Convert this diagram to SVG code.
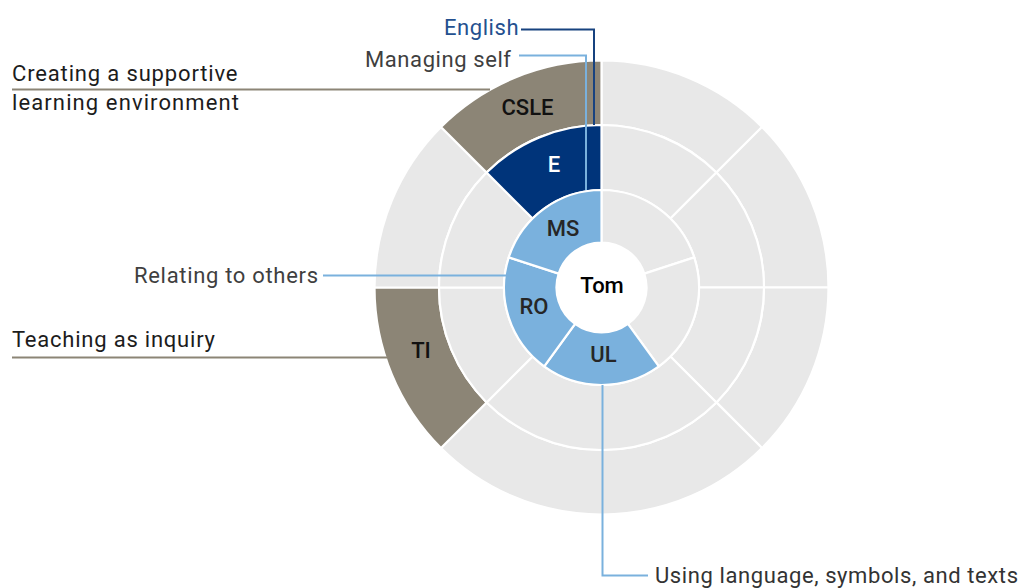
<svg xmlns="http://www.w3.org/2000/svg" width="1021" height="588" viewBox="0 0 1021 588">
  <style>
    .seg { stroke: #ffffff; stroke-width: 2.2; stroke-linejoin: miter; }
    .bg { fill: #e8e8e8; }
    .practice { fill: #8c8576; }
    .subject { fill: #00347a; }
    .comp { fill: #7ab1dd; }
    .lbl { font-family: Roboto, "Liberation Sans", sans-serif; font-size: 22px; font-weight: 500; text-anchor: middle; }
    .cap { font-family: Roboto, "Liberation Sans", sans-serif; font-size: 22px; }
    .lead { fill: none; stroke-width: 2; }
  </style>
  <rect width="1021" height="588" fill="#ffffff"/>

  <!-- outer ring: teaching practices -->
  <g id="outer-ring">
    <g id="o-1"><path class="seg bg" d="M601.5,60.5 A227,227 0 0 1 762.01,126.99 L716.41,172.59 A162.5,162.5 0 0 0 601.5,125 Z"/></g>
    <g id="o-2"><path class="seg bg" d="M762.01,126.99 A227,227 0 0 1 828.5,287.5 L764,287.5 A162.5,162.5 0 0 0 716.41,172.59 Z"/></g>
    <g id="o-3"><path class="seg bg" d="M828.5,287.5 A227,227 0 0 1 762.01,448.01 L716.41,402.41 A162.5,162.5 0 0 0 764,287.5 Z"/></g>
    <g id="o-4"><path class="seg bg" d="M762.01,448.01 A227,227 0 0 1 440.99,448.01 L486.59,402.41 A162.5,162.5 0 0 0 716.41,402.41 Z"/></g>
    <g id="node-ti">
      <path class="seg practice" d="M440.99,448.01 A227,227 0 0 1 374.5,287.5 L439,287.5 A162.5,162.5 0 0 0 486.59,402.41 Z"/>
      <text class="lbl" x="421" y="357.5" fill="#111111">TI</text>
    </g>
    <g id="o-6"><path class="seg bg" d="M374.5,287.5 A227,227 0 0 1 440.99,126.99 L486.59,172.59 A162.5,162.5 0 0 0 439,287.5 Z"/></g>
    <g id="node-csle">
      <path class="seg practice" d="M440.99,126.99 A227,227 0 0 1 601.5,60.5 L601.5,125 A162.5,162.5 0 0 0 486.59,172.59 Z"/>
      <text class="lbl" x="527.5" y="115" fill="#111111">CSLE</text>
    </g>
  </g>

  <!-- middle ring: learning areas -->
  <g id="middle-ring">
    <g id="m-1"><path class="seg bg" d="M601.5,125 A162.5,162.5 0 0 1 716.41,172.59 L670.44,218.56 A97.5,97.5 0 0 0 601.5,190 Z"/></g>
    <g id="m-2"><path class="seg bg" d="M716.41,172.59 A162.5,162.5 0 0 1 764,287.5 L699,287.5 A97.5,97.5 0 0 0 670.44,218.56 Z"/></g>
    <g id="m-3"><path class="seg bg" d="M764,287.5 A162.5,162.5 0 0 1 716.41,402.41 L670.44,356.44 A97.5,97.5 0 0 0 699,287.5 Z"/></g>
    <g id="m-4"><path class="seg bg" d="M716.41,402.41 A162.5,162.5 0 0 1 486.59,402.41 L532.56,356.44 A97.5,97.5 0 0 0 670.44,356.44 Z"/></g>
    <g id="m-5"><path class="seg bg" d="M486.59,402.41 A162.5,162.5 0 0 1 439,287.5 L504,287.5 A97.5,97.5 0 0 0 532.56,356.44 Z"/></g>
    <g id="m-6"><path class="seg bg" d="M439,287.5 A162.5,162.5 0 0 1 486.59,172.59 L532.56,218.56 A97.5,97.5 0 0 0 504,287.5 Z"/></g>
    <g id="node-e">
      <path class="seg subject" d="M486.59,172.59 A162.5,162.5 0 0 1 601.5,125 L601.5,190 A97.5,97.5 0 0 0 532.56,218.56 Z"/>
      <text class="lbl" x="554" y="172" fill="#ffffff">E</text>
    </g>
  </g>

  <!-- inner ring: key competencies -->
  <g id="inner-ring">
    <g id="i-1"><path class="seg bg" d="M601.5,190 A97.5,97.5 0 0 1 694.23,257.37 L644.3,273.59 A45,45 0 0 0 601.5,242.5 Z"/></g>
    <g id="i-2"><path class="seg bg" d="M694.23,257.37 A97.5,97.5 0 0 1 658.81,366.38 L627.95,323.91 A45,45 0 0 0 644.3,273.59 Z"/></g>
    <g id="node-ul">
      <path class="seg comp" d="M658.81,366.38 A97.5,97.5 0 0 1 544.19,366.38 L575.05,323.91 A45,45 0 0 0 627.95,323.91 Z"/>
      <text class="lbl" x="603.5" y="362" fill="#262626">UL</text>
    </g>
    <g id="node-ro">
      <path class="seg comp" d="M544.19,366.38 A97.5,97.5 0 0 1 508.77,257.37 L558.7,273.59 A45,45 0 0 0 575.05,323.91 Z"/>
      <text class="lbl" x="534" y="313.5" fill="#262626">RO</text>
    </g>
    <g id="node-ms">
      <path class="seg comp" d="M508.77,257.37 A97.5,97.5 0 0 1 601.5,190 L601.5,242.5 A45,45 0 0 0 558.7,273.59 Z"/>
      <text class="lbl" x="563" y="236" fill="#262626">MS</text>
    </g>
  </g>

  <!-- centre -->
  <g id="node-tom">
    <circle cx="601.5" cy="287.5" r="44" fill="#ffffff"/>
    <text class="lbl" x="602" y="292.5" fill="#000000" font-weight="700" font-size="20">Tom</text>
  </g>

  <!-- leader lines -->
  <g id="connectors">
    <polyline class="lead" stroke="#17427f" points="521,29.5 594,29.5 594,125"/>
    <polyline class="lead" stroke="#7ab1dd" points="519,55.5 586,55.5 586,190"/>
    <line class="lead" stroke="#8c8576" x1="12" y1="89.5" x2="490" y2="89.5"/>
    <line class="lead" stroke="#8c8576" x1="12" y1="357.5" x2="387" y2="357.5"/>
    <line class="lead" stroke="#7ab1dd" x1="323" y1="275.5" x2="506" y2="275.5"/>
    <polyline class="lead" stroke="#7ab1dd" points="602.5,385 602.5,575.5 648,575.5"/>
  </g>

  <!-- captions -->
  <g id="captions">
    <text class="cap" x="444" y="35" fill="#24508f" textLength="74.5">English</text>
    <text class="cap" x="365" y="66.5" fill="#3f3f3f" textLength="146">Managing self</text>
    <text class="cap" x="12" y="81" fill="#1c1c1c" textLength="225.5">Creating a supportive</text>
    <text class="cap" x="12" y="109.5" fill="#1c1c1c" textLength="227">learning environment</text>
    <text class="cap" x="134" y="282.5" fill="#3f3f3f" textLength="184">Relating to others</text>
    <text class="cap" x="12" y="347" fill="#1c1c1c" textLength="203">Teaching as inquiry</text>
    <text class="cap" x="655" y="582.5" fill="#333333" textLength="363">Using language, symbols, and texts</text>
  </g>
</svg>
